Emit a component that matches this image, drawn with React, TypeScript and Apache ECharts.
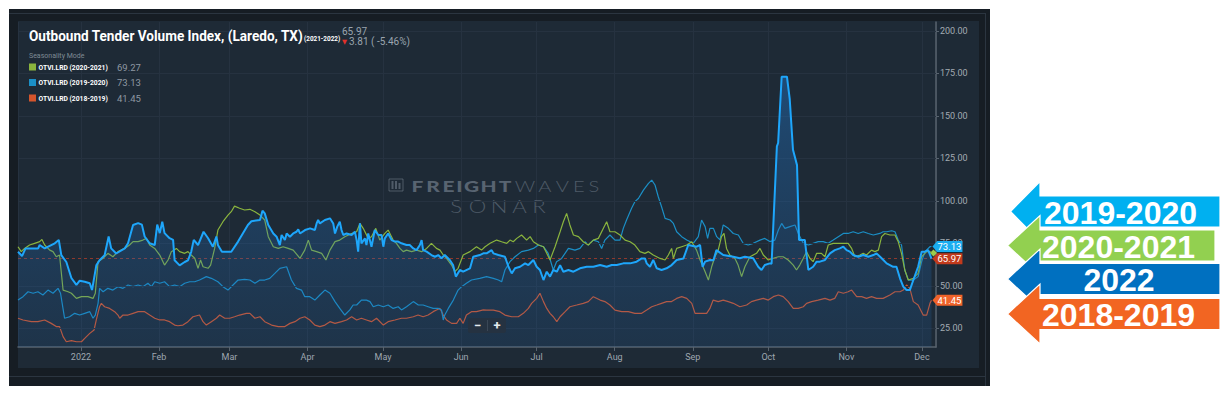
import React, { useEffect, useRef } from "react";
import * as echarts from "echarts";

const START = new Date(2021, 11, 7).getTime();
const DAY = 86400000;
const AXIS_END_DAY = 364.6;
const Y_MIN = 14;
const Y_MAX = 205.2;
const Y_TICKS = [25, 50, 75, 100, 125, 150, 175, 200];
const MONTH_LABELS = ["Jan", "Feb", "Mar", "Apr", "May", "Jun", "Jul", "Aug", "Sep", "Oct", "Nov", "Dec"];

const TITLE = "Outbound Tender Volume Index, (Laredo, TX)";
const TITLE_SUB = "(2021-2022)";
const HEADER_VALUE = "65.97";
const HEADER_CHANGE = "3.81 ( -5.46%)";
const MAIN_NAME = "OTVI.LRD (2021-2022)";
const LEGEND_NAMES = ["OTVI.LRD (2020-2021)", "OTVI.LRD (2019-2020)", "OTVI.LRD (2018-2019)"];
const ARROW_LABELS = ["2019-2020", "2020-2021", "2022", "2018-2019"];

// [day offset from 2021-12-07, value]
const S2022: [number, number][] = [
  [0,70],[1.6,67.5],[3,72],[8,72],[8.6,74],[10.6,72],[14.6,75],[16.2,77],[17.2,68],[19.2,64],[21.2,54.6],[23.2,50.5],[24.5,53],[26.5,52.4],[28.5,51.5],[29.4,47.5],[31.1,62],[32.4,65],[34.4,68],[36,79],[37,72],[39,69],[42.4,72],[43.7,75],[45.7,85.8],[47.7,86.9],[49.2,86],[50.3,79],[52.3,75],[54.3,74],[55.3,86],[56.3,81],[57.3,87.7],[58.2,81],[60.2,78],[61.6,77],[62.2,65],[64.2,62],[66.2,64],[67.5,65],[68.8,70],[69.8,77],[71.5,74],[73.7,81.8],[75.5,78],[77.4,73],[78.8,79],[79.4,74],[81,70],[84.7,70],[87.4,76],[91.3,85.8],[92.7,88],[96.1,88.7],[97.1,94.2],[98,92.6],[99.4,85.8],[101.4,80.8],[102.7,78.9],[104,74],[104.7,79.9],[106,76.9],[106.7,80.8],[108,78.9],[109.3,80.8],[110.6,81.8],[111.3,83.2],[112,80.8],[114,82.8],[116,83.8],[117.9,82.8],[118.6,86.7],[119.2,88.7],[119.9,86.7],[121.9,88.7],[123.9,89.7],[125.2,86.7],[125.9,80.8],[126.8,84.8],[127.8,87.7],[128.5,82.8],[129.2,79.9],[130.5,80.8],[132.5,79.9],[133.8,81.8],[134.5,76.9],[135.1,70.1],[135.8,86.7],[136.4,75],[137.8,77.9],[138.4,74],[139.1,80.8],[140.4,73],[141.7,82.8],[143.1,79.9],[144.4,79.9],[145.1,73],[145.7,77.9],[147,80.8],[148.4,76.9],[149.7,76],[151,76],[152.3,75],[154.3,74],[155.6,74],[157,72],[158.3,71],[159.6,74],[160.3,76.9],[160.9,71],[162.3,70.1],[164.2,68.1],[165.6,67.1],[166.9,68.1],[168.2,66.2],[169.5,68.1],[171.5,65.2],[172.8,62.2],[173.9,55.4],[175.5,59.3],[176.8,58.3],[179.5,60.2],[180.8,67.1],[183.4,68.1],[184.8,69.1],[186.1,69.1],[188.1,71],[188.8,69.1],[190.8,68.1],[193.4,67.1],[194.8,61.2],[196.1,57.3],[197.4,60.3],[199.4,61.2],[201.4,63.2],[202.7,62.2],[204.7,65.2],[206,61.2],[207.3,59.3],[208.7,53.4],[210,58.3],[211.3,55.4],[212.6,59.3],[214,58.3],[215.3,62.2],[216.6,58.3],[218.6,59.3],[220.6,58.3],[223.2,60.3],[225.9,61.2],[228.5,61.2],[231.2,62.2],[233.8,61.2],[235.8,62.2],[237.8,62.2],[240.4,63.2],[243.1,63.2],[245.7,64.2],[247.7,66.1],[249,66.1],[249.7,63.2],[251,61.2],[252.3,65.2],[253.7,60.3],[255.6,59.3],[257.6,60.3],[259.6,62.2],[261.6,65.2],[264.3,66.1],[266.2,74],[269.5,73],[270.9,74],[271.9,61.2],[272.9,64.2],[274.8,65.2],[276.2,65],[277.4,71],[280.1,68.1],[284.1,67.1],[286.7,66.2],[288.7,67.1],[292,66.2],[294,61.2],[295.3,59.3],[296.6,62.2],[298.6,63.2],[299.3,63],[301.4,132],[301.9,134],[303.3,173],[305.4,173],[306.5,160],[307.8,130],[309.4,121],[310.2,77],[312.5,77],[313.9,59.3],[315.8,61.2],[317.2,64.2],[318.5,64.2],[320.5,65.2],[322.5,69.1],[324.4,71],[326.4,72],[327.8,73],[329.1,71],[330.4,70.1],[331.7,68.1],[333.7,67.1],[335.7,68.1],[337.7,67.1],[339.7,68.1],[341,69.1],[343,66.2],[345,63.2],[347.6,61.2],[348.9,61.2],[350.3,54.4],[351.6,49.5],[352.9,47.5],[354.2,47.5],[355.6,53.4],[357.5,61.2],[358.9,70.1],[360.2,70.1],[361.5,71],[362.8,65.97]
];

const S2019: [number, number][] = [
  [0,41.6],[2,43.6],[4,46.5],[6,45.6],[7.9,46.5],[9.9,44.6],[11.9,47.5],[13.9,45.6],[15.9,48.5],[16.9,45.6],[18.5,30.9],[20.5,31.8],[22.5,33.8],[24.5,32.8],[26.5,33.8],[28.5,34.8],[29.8,30.9],[30.7,32.8],[31.8,39.7],[32.4,48.5],[33.8,46.5],[35.7,48.5],[37.7,47.5],[39.7,49.5],[41.7,48.5],[43.7,50.5],[45.7,49.5],[47.7,50.5],[49.6,49.5],[51.6,51.5],[53,49.5],[54.3,52.4],[56.3,51.5],[58.2,52.4],[60.2,49.5],[62.2,50.5],[64.2,49.5],[66.2,51.5],[68.2,52.4],[70.2,52.4],[72.1,53.4],[74.8,55.4],[76.8,54.4],[79.4,52.4],[81.4,49.5],[83.4,47.5],[85.4,50.5],[87.4,53.4],[90,53.8],[92.1,53.4],[94.1,51.5],[96.1,53.4],[98,53.4],[100,54.4],[102,57.3],[104,60.3],[106.7,61.2],[108.6,53.4],[110.6,48.5],[112.6,47.5],[113.9,43.6],[115.9,43.6],[117.9,41.6],[119.9,44.6],[121.9,47.5],[123.9,45.6],[125.9,40.7],[127.8,36.7],[129.8,32.8],[131.8,35.8],[133.1,38.7],[134.5,38.7],[136.4,41.6],[138.4,41.6],[139.8,40.7],[141.1,37.7],[143.1,38.7],[145.1,37.7],[147,38.7],[149,36.7],[151,37.7],[152.3,35.8],[154.3,37.7],[157,40.7],[159,38.7],[160.9,38.7],[162.9,37.7],[164.9,36.7],[166.9,36.7],[168.2,35.8],[168.9,29.9],[169.5,32.8],[170.9,36.7],[172.9,41.6],[174.8,47.5],[176.2,49.5],[178.1,51.5],[180.1,53.4],[183.4,54.4],[186.1,55.4],[188.8,54.4],[190.8,53.4],[192.1,52.4],[193.4,59.3],[195.4,64.2],[197.4,67.1],[200,70.1],[202.7,71],[204.7,72],[206.7,74],[208.7,73],[210.6,69.1],[212.6,59.3],[213.9,64.2],[215.9,66.1],[218.6,72],[221.2,71],[223.2,72],[225.2,75.9],[226.5,74],[228.5,76.9],[230.5,75.9],[231.8,72],[233.1,76.9],[235.1,79.9],[237.1,76.9],[239.1,76.9],[240.4,83.8],[241.7,88.7],[243.7,95.6],[245,99.5],[246.4,101.4],[248.4,106.3],[250.4,110.3],[251.7,112.2],[253,109.3],[254.3,102.4],[255.6,96.5],[257,89.7],[259,88.7],[260.3,86.7],[261.6,81.8],[263.6,78.9],[265.6,76.9],[268.2,75],[270.2,78.9],[271.5,88.7],[272.9,84.8],[273.9,77.9],[274.8,83.8],[276.2,83.8],[277.5,78.9],[278.8,77],[280.1,85.8],[282.1,83.8],[284.1,80.8],[286.1,79.9],[288,75],[290,74],[292,75],[294.7,76.9],[296.6,77.9],[298.6,76],[300.6,76.9],[302,82.8],[303.3,86.7],[304.6,83.8],[306.6,84.8],[308.6,85.8],[309.9,80.8],[311.9,75],[313.9,74],[315.8,75],[317.8,76],[319.8,76],[321.8,75],[323.8,76.9],[325.8,78.9],[327.8,80.8],[329.7,80.8],[331.7,81.8],[333.7,80.8],[335.7,81.8],[337.7,80.8],[339.7,79.9],[342.3,80.8],[343.6,81.8],[345,81.8],[347,82.4],[348.3,81.8],[349.6,76.9],[350.9,74],[352.2,59.3],[353.6,53.4],[355.6,53.4],[357.5,55.4],[358.9,64.2],[360.2,70.1],[362.2,73],[362.8,73.13]
];

const S2020: [number, number][] = [
  [0,73],[1.3,70.1],[2.6,72],[4.6,74],[6.6,75],[8.6,76],[9.5,77.3],[10.6,74],[12.6,71],[13.9,70.1],[15.2,67.1],[16.5,68.1],[17.9,47.5],[19.9,46.5],[21.2,45.6],[23.2,42.6],[25.2,43.6],[27.8,43.6],[29.8,42.6],[30.7,45.6],[31.8,64.2],[33.8,66.2],[35.7,69.1],[37.7,67.1],[39.7,70.1],[42.4,72],[44.3,74],[45.7,76],[47.7,76],[49.6,76.9],[51,77.9],[52.3,74],[54.3,72],[56.3,68.1],[58.2,62.2],[59.6,65.2],[60.9,70.1],[62.9,72],[64.2,70.1],[66.2,69.1],[67.5,70.1],[68.8,68.1],[70.2,66.2],[71.5,60.3],[72.5,65.2],[73.5,61.2],[75.5,60.3],[76.5,62.2],[78.1,72],[79.4,82.8],[81.4,87.7],[83.4,91.6],[84.7,93.6],[86,96.9],[88,95.6],[90,94.6],[92.1,95],[94.1,93.6],[96.1,91.6],[98,88.7],[99.4,78.9],[101.4,73],[103.4,72],[105.3,73],[107.3,72],[109.3,71],[112,66.2],[113.9,71],[115.3,76.9],[116.6,71],[118.6,70.1],[120.6,69.1],[122.3,65.2],[123.9,71],[125.9,76],[127.8,76.9],[129.8,78.9],[132.5,80.8],[134.5,81.8],[135.8,86.7],[137.1,83.8],[139.1,77.9],[140.4,78.9],[142.1,83.8],[143.7,76.9],[145.7,80.8],[147,82.8],[149,76.9],[150.3,75],[151.7,72],[153,70.1],[154.3,71],[156.3,70.1],[158.3,71],[160.3,70.1],[162.3,72],[164.2,75],[166.2,72],[167.6,71],[168.9,68.1],[170.2,66.2],[172.2,62.2],[173.5,58.3],[174.8,60.3],[176.8,68.1],[179.5,70.1],[182.1,73],[184.1,71],[185.5,73],[187.5,75],[190.1,76.9],[192.1,75.9],[194.1,75],[195.4,76.9],[196.7,75.9],[198.1,77.9],[200,79.9],[202,76.9],[203.4,78.9],[204.7,75.9],[206.7,74],[208.7,73],[210,69.1],[211.3,65.2],[213.3,73],[215.3,81.8],[216.6,87.7],[217.9,92.6],[219.2,85.8],[220.6,79.9],[222.6,78.9],[224.5,75.9],[226.5,74],[228.5,76.9],[230.5,77.9],[232.5,83.8],[233.8,87.7],[235.1,81.8],[237.1,81.8],[239.1,79.9],[241.1,76.9],[243.1,75.9],[245,74],[247,70.1],[249,69.1],[250.4,70.1],[252.3,68.1],[255,66.1],[257,65.2],[258.3,68.1],[259.6,72],[260.3,66.1],[261.6,72],[263.6,73],[265.6,74],[267.6,75.9],[269.5,71],[270.9,65.2],[272.9,58.3],[274.2,53.4],[275.5,61.2],[276.8,67.1],[278.1,71],[279.4,78.9],[280.4,80.8],[281.4,72],[282.7,68.1],[284.7,66.2],[286,62.2],[287.4,55.4],[288.7,61.2],[290.7,67.1],[293.3,69.1],[294.7,72],[296,68.1],[298,65.2],[300,66.2],[302,67.1],[303.9,67.1],[305.9,65.2],[307.9,62.2],[309.2,59.3],[310.5,62.2],[311.9,66.2],[313.2,70.1],[314.5,66.2],[315.8,64.2],[317.2,69.1],[319.1,69.1],[320.5,67.1],[321.8,74],[323.8,75],[325.8,75],[327.8,75],[329.7,75],[331.1,72],[332.4,67.1],[334.4,68.1],[335.7,69.1],[337,68.1],[339,71],[340.3,70.1],[341.7,71],[343,78.9],[344.3,80.8],[346.3,79.9],[348.3,79.9],[349.6,76],[350.9,69.1],[352.2,59.3],[353.6,53.4],[355.6,54.4],[357.5,57.3],[358.9,67.1],[360.9,70.1],[362.2,70.1],[362.8,69.27]
];

const S2018: [number, number][] = [
  [0,30.9],[2,29.9],[5.3,28.9],[7.9,28.9],[10.6,29.9],[13.2,27.9],[15.2,26],[16.5,26],[17.9,20.1],[19.2,17.1],[21.2,17.7],[23.2,17.1],[25.2,17.1],[26.5,19.1],[28.5,22],[30.2,24],[31.1,29.9],[32.4,37.7],[33.1,39.7],[34.4,37.7],[36.4,36.7],[38.4,34.8],[39.7,32.8],[40.4,30.9],[41.7,32.8],[43.7,32.8],[45.7,33.8],[47.7,34.8],[50.3,34.8],[52.3,32.8],[54.3,30.9],[56.3,29.9],[58.2,29.9],[60.2,28.9],[62.2,26.9],[63.5,26.5],[65.5,26.9],[67.5,28.9],[69.5,31.8],[72.1,32.8],[73.5,28.9],[74.8,26.9],[76.8,28.9],[78.8,30.9],[80.1,32.8],[82.1,30.9],[84.1,30.9],[86,31.8],[88,32.8],[90.7,33.8],[92.1,33.8],[94.1,30.9],[96.1,31.8],[98,28.9],[100.7,26.9],[103.4,26],[106,26],[108,27.9],[110,28.9],[112,30.9],[113.9,31.8],[115.9,29.9],[117.9,26.9],[119.9,26],[121.9,26.9],[123.9,28.9],[125.9,27.9],[128.5,28.9],[130.5,29.9],[132.5,31.8],[134.5,29.9],[136.4,30.9],[138.4,29.9],[140.4,28.9],[142.4,30.9],[145.1,26.9],[147,28.9],[149.7,29.9],[152.3,30.9],[154.3,30.9],[157,31.8],[158.9,32.8],[160.9,31.8],[162.9,32.8],[164.9,34.8],[166.2,35.8],[167.6,36.7],[168.9,32.8],[170.2,29.9],[172.2,27.9],[174.2,27.9],[175.5,30.9],[176.8,27.9],[178.1,32.8],[180.1,34.8],[182.1,34.8],[184.8,35.8],[186.1,35.7],[188.8,35.7],[191.4,34.8],[193.4,32.8],[196.1,31.8],[198.7,31.8],[200.7,33.8],[202.7,36.7],[204,39.7],[206,42.6],[207.3,45.6],[208.7,40.7],[210,36.7],[211.3,33.8],[212.6,31.8],[214,28.9],[215.3,31.8],[217.3,34.8],[219.2,37.7],[221.9,38.7],[224.5,39.7],[226.5,40.7],[228.5,43.6],[231.2,41.6],[233.1,40.7],[235.1,38.7],[237.1,35.7],[239.8,34.8],[242.4,34.8],[245,33.8],[247.7,33.8],[249.7,35.7],[251.7,37.7],[253.7,38.7],[255.6,39.7],[257.6,40.7],[259.6,40.7],[261.6,42.6],[263.6,43.6],[265.6,42.6],[267.6,39.7],[268.9,33.8],[270.9,33.8],[273.5,33.8],[274.8,36.7],[276.1,41.6],[278.1,40.7],[280.1,41.6],[282.1,40.7],[284.1,39.7],[286.7,37.7],[289.4,38.7],[291.3,40.7],[293.3,41.6],[296,42.6],[298,41.6],[300,43.6],[302,44.6],[303.9,43.6],[305.9,40.7],[307.9,36.7],[309.9,36.7],[311.9,37.7],[313.2,39.7],[315.2,40.7],[317.8,41.6],[320.5,42.6],[322.5,41.6],[324.4,42.6],[325.8,46.5],[327.8,45.6],[329.7,46.5],[331.1,47.5],[333.1,43.6],[335.1,43.6],[337,42.6],[339,43.6],[341,42.6],[343.6,42.6],[346.3,44.6],[348.3,46.5],[350.3,46.5],[351.6,47.5],[352.9,50.5],[354.2,48.5],[355.6,40.7],[357.5,38.7],[359.5,32.8],[360.9,32.8],[362.2,39.7],[362.8,41.45]
];

const C_MAIN = "#1ea6fb";
const C_2019 = "#1b8fc6";
const C_2020 = "#8ab43e";
const C_2018 = "#d4552c";

const toData = (s: [number, number][]) => s.map(([d, v]) => [START + d * DAY, v]);
const last = (s: [number, number][]) => s[s.length - 1];

function tagPoint(s: [number, number][], color: string) {
  const [d, v] = last(s);
  return {
    symbol: "path://M0,6L5,0H32V12H5Z",
    symbolSize: [30, 11],
    symbolKeepAspect: false,
    symbolOffset: [16, 0],
    silent: true,
    label: { show: true, color: "#ffffff", fontSize: 9.5, fontFamily: "Roboto", offset: [2, 0], formatter: () => v.toFixed(2) },
    itemStyle: { color },
    data: [{ coord: [START + d * DAY, v], value: v }],
  };
}

function txt(x: number, y: number, text: string, style: any, z = 100, extra: any = {}) {
  return {
    type: "text", x, y, z, silent: true, ...extra,
    style: { text, fill: "#ffffff", fontFamily: "Roboto", fontSize: 10, textAlign: "left", textVerticalAlign: "middle", align: "left", verticalAlign: "middle", ...style },
  };
}

function arrowShape(tipX: number, tipY: number, headX: number, headHalf: number, bodyHalf: number, rightX: number) {
  return [
    [tipX, tipY], [headX, tipY - headHalf], [headX, tipY - bodyHalf], [rightX, tipY - bodyHalf],
    [rightX, tipY + bodyHalf], [headX, tipY + bodyHalf], [headX, tipY + headHalf],
  ];
}

function spacedLetters(text: string, x0: number, advances: number[], y: number, style: any, sx: number) {
  const out: any[] = [];
  let x = x0;
  for (let i = 0; i < text.length; i++) {
    out.push(txt(x + advances[i] / 2, y, text[i], { textAlign: "center", align: "center", ...style }, 1, { scaleX: sx }));
    x += advances[i];
  }
  return out;
}

export default function App() {
  const ref = useRef<HTMLDivElement>(null);
  useEffect(() => {
    document.body.style.margin = "0";
    const chart = echarts.init(ref.current!, null, { renderer: "svg" });

    const legendColors = [C_2020, C_2019, C_2018];
    const legendSeries = [S2020, S2019, S2018];
    const legendEls: any[] = [];
    LEGEND_NAMES.forEach((n, i) => {
      const y = 67 + i * 15.5;
      legendEls.push({ type: "rect", z: 100, silent: true, shape: { x: 29, y: y - 3.5, width: 7, height: 7 }, style: { fill: legendColors[i] } });
      legendEls.push(txt(38.5, y, n, { fontSize: 7.5, fontWeight: "bold" }, 100, { scaleX: 0.9 }));
      legendEls.push(txt(117, y, last(legendSeries[i])[1].toFixed(2), { fontSize: 9.5, fill: "#8e98a2" }));
    });

    const arrowColors = ["#00b0f0", "#92d050", "#0070c0", "#f26522"];
    const arrowGeo = [
      { tipX: 1010.5, tipY: 211.5, right: 1220, textX: 1044 },
      { tipX: 1007.5, tipY: 245.5, right: 1215, textX: 1042 },
      { tipX: 1007.5, tipY: 279, right: 1220, textX: 1119 },
      { tipX: 1007.5, tipY: 314, right: 1220, textX: 1042 },
    ];
    const arrowEls: any[] = [];
    ARROW_LABELS.forEach((lab, i) => {
      const g = arrowGeo[i];
      arrowEls.push({
        type: "polygon", z: 10 + i, silent: true,
        shape: { points: arrowShape(g.tipX, g.tipY, 1040, 30, 15.5, g.right) },
        style: { fill: arrowColors[i], stroke: "#ffffff", lineWidth: 1.2 },
      });
      const center = lab.length === 4;
      arrowEls.push(txt(g.textX, g.tipY + 1, lab, {
        fontSize: 32, fontWeight: "bold", fontFamily: '"Liberation Sans", Arial, sans-serif',
        textAlign: center ? "center" : "left", align: center ? "center" : "left",
      }, 20 + i));
    });

    const wmBold = "rgba(128,140,154,0.6)";
    const wmThin = "rgba(128,140,154,0.5)";
    const watermark = [
      { type: "rect", z: 1, silent: true, shape: { x: 389, y: 179, width: 14, height: 12 }, style: { fill: "none", stroke: wmThin, lineWidth: 1 } },
      { type: "rect", z: 1, silent: true, shape: { x: 391.5, y: 181, width: 2, height: 8 }, style: { fill: wmThin } },
      { type: "rect", z: 1, silent: true, shape: { x: 395, y: 181, width: 2, height: 8 }, style: { fill: wmThin } },
      { type: "rect", z: 1, silent: true, shape: { x: 398.5, y: 183, width: 2, height: 6 }, style: { fill: wmThin } },
      ...spacedLetters("FREIGHT", 410, [15, 16, 15, 7, 17, 17, 16], 186, { fontSize: 15.5, fontWeight: 900, fontFamily: "Lato, Roboto", fill: wmBold }, 1.35),
      ...spacedLetters("WAVES", 514, [22, 17.5, 17.5, 15.5, 15], 186, { fontSize: 15.5, fontWeight: 300, fontFamily: "Lato, Roboto", fill: wmThin }, 1.3),
      ...spacedLetters("SONAR", 446, [20.5, 22, 21, 20, 19], 206.5, { fontSize: 17, fontWeight: 300, fontFamily: "Lato, Roboto", fill: wmThin }, 1.3),
    ];

    const gridLines = Y_TICKS.map((v) => ({ yAxis: v, lineStyle: { color: "#263240", width: 1, type: "solid" } }));

    chart.setOption({
      animation: false,
      backgroundColor: "#ffffff",
      grid: { left: 18, right: 292, top: 22, bottom: 47 },
      xAxis: {
        type: "time",
        min: START,
        max: START + AXIS_END_DAY * DAY,
        splitNumber: 12,
        minInterval: 28 * DAY,
        maxInterval: 31 * DAY,
        axisLine: { show: true, lineStyle: { color: "#58636e", width: 1.5 } },
        axisTick: { show: true, length: 4, lineStyle: { color: "#58636e" } },
        splitLine: { show: true, lineStyle: { color: "#263240", width: 1 } },
        axisLabel: {
          color: "#9ea7b0", fontSize: 9, fontFamily: "Roboto", margin: 5, hideOverlap: false,
          formatter: (val: number) => {
            const d = new Date(val);
            return d.getMonth() === 0 ? String(d.getFullYear()) : MONTH_LABELS[d.getMonth()];
          },
        },
      },
      yAxis: {
        type: "value",
        position: "right",
        min: Y_MIN,
        max: Y_MAX,
        axisLine: { show: true, lineStyle: { color: "#58636e", width: 1.5 } },
        axisTick: { show: true, length: 3, customValues: Y_TICKS, lineStyle: { color: "#58636e" } },
        splitLine: { show: false },
        axisLabel: { color: "#a3abb3", fontSize: 9, fontFamily: "Roboto", margin: 4, customValues: Y_TICKS, formatter: (v: number) => v.toFixed(2) },
      },
      graphic: {
        elements: [
          { type: "rect", z: -10, silent: true, shape: { x: 9, y: 9, width: 981, height: 377 }, style: { fill: "#161d24" } },
          { type: "line", z: -9, silent: true, shape: { x1: 9, y1: 13.5, x2: 985, y2: 13.5 }, style: { stroke: "#2b3540", lineWidth: 1 } },
          { type: "line", z: -9, silent: true, shape: { x1: 985.5, y1: 13, x2: 985.5, y2: 386 }, style: { stroke: "#2b3540", lineWidth: 1 } },
          { type: "line", z: -9, silent: true, shape: { x1: 9, y1: 376.5, x2: 985, y2: 376.5 }, style: { stroke: "#2b3540", lineWidth: 1 } },
          { type: "rect", z: -8, silent: true, shape: { x: 18, y: 21, width: 961, height: 347 }, style: { fill: "#1e2a36" } },
          ...watermark,
          txt(29, 35.5, TITLE, { fontSize: 15, fontWeight: "bold" }, 100, { scaleX: 0.905 }),
          txt(304, 38.5, TITLE_SUB, { fontSize: 7.5, fontWeight: "bold" }, 100, { scaleX: 0.85 }),
          txt(342, 31, HEADER_VALUE, { fontSize: 10, fill: "#9aa4ae" }),
          txt(342, 41.5, "▼", { fontSize: 6.5, fill: "#e0312b", fontFamily: "DejaVu Sans" }),
          txt(349, 41.5, HEADER_CHANGE, { fontSize: 10, fill: "#9aa4ae" }),
          txt(29, 56, "Seasonality Mode", { fontSize: 7, fill: "#7f8a95" }),
          ...legendEls,
          { type: "rect", z: 100, silent: true, shape: { x: 468, y: 318, width: 38, height: 15, r: 2 }, style: { fill: "#253241" } },
          { type: "line", z: 101, silent: true, shape: { x1: 487.5, y1: 320, x2: 487.5, y2: 331 }, style: { stroke: "#3a4756", lineWidth: 1 } },
          txt(477.5, 325.5, "−", { fontSize: 13, fontWeight: "bold", fill: "#e6eaee", textAlign: "center", align: "center" }, 102),
          txt(497, 325.5, "+", { fontSize: 13, fontWeight: "bold", fill: "#e6eaee", textAlign: "center", align: "center" }, 102),
          ...arrowEls,
        ],
      },
      series: [
        {
          type: "line", name: LEGEND_NAMES[2], data: toData(S2018), showSymbol: false, z: 3,
          lineStyle: { color: C_2018, width: 1.2 }, itemStyle: { color: C_2018 },
          markLine: { silent: true, symbol: "none", label: { show: false }, data: gridLines },
          markPoint: tagPoint(S2018, "#f0632a"),
        },
        {
          type: "line", name: LEGEND_NAMES[1], data: toData(S2019), showSymbol: false, z: 4,
          lineStyle: { color: C_2019, width: 1.2 }, itemStyle: { color: C_2019 },
          markPoint: tagPoint(S2019, "#19adf0"),
        },
        {
          type: "line", name: LEGEND_NAMES[0], data: toData(S2020), showSymbol: false, z: 5,
          lineStyle: { color: C_2020, width: 1.2 }, itemStyle: { color: C_2020 },
          markPoint: {
            symbol: "diamond", symbolSize: 7, symbolOffset: [2, 0], silent: true, label: { show: false },
            itemStyle: { color: "#9ccc4a" },
            data: [{ coord: [START + last(S2020)[0] * DAY, last(S2020)[1]] }],
          },
        },
        {
          type: "line", name: MAIN_NAME, data: toData(S2022), showSymbol: false, z: 6,
          lineStyle: { color: C_MAIN, width: 2 }, itemStyle: { color: C_MAIN },
          areaStyle: {
            origin: "start",
            color: new echarts.graphic.LinearGradient(0, 0, 0, 1, [
              { offset: 0, color: "rgba(33,122,208,0.58)" },
              { offset: 1, color: "rgba(33,105,180,0.22)" },
            ]),
          },
          markLine: {
            silent: true, symbol: "none", label: { show: false },
            data: [{ yAxis: last(S2022)[1], lineStyle: { color: "#9a3b2c", width: 1, type: [3, 3], opacity: 0.9 } }],
          },
          markPoint: tagPoint(S2022, "#c23a1c"),
        },
      ],
    });

    return () => chart.dispose();
  }, []);
  return <div ref={ref} style={{ position: "fixed", left: 0, top: 0, width: 1228, height: 394 }} />;
}
